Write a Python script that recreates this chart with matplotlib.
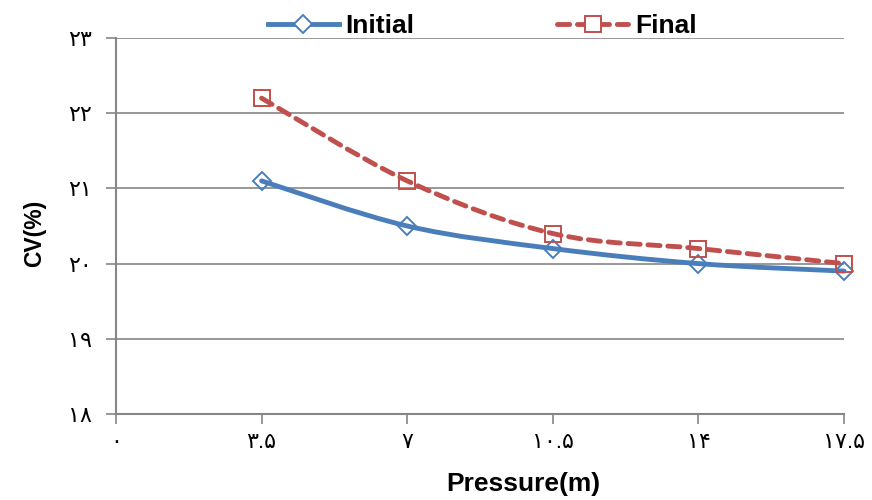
import numpy as np
import matplotlib.pyplot as plt
from matplotlib.path import Path
from matplotlib.patches import PathPatch

plt.rcParams['font.family'] = ['Liberation Sans', 'DejaVu Sans']

pressure = [3.5, 7, 10.5, 14, 17.5]
cv_initial = [21.1, 20.5, 20.2, 20.0, 19.9]
cv_final = [22.2, 21.1, 20.4, 20.2, 20.0]

x_ticks = [0, 3.5, 7, 10.5, 14, 17.5]
x_labels = ['۰', '۳.۵', '۷', '۱۰.۵', '۱۴', '۱۷.۵']
y_ticks = [18, 19, 20, 21, 22, 23]
y_labels = ['۱۸', '۱۹', '۲۰', '۲۱', '۲۲', '۲۳']

blue = '#4a7ebb'
red = '#c0504d'
grey = '#868686'
dash = (0, (2.5, 1.6))


def smooth_path(x, y):
    # Excel-like smoothed line: cubic bezier segments through the points
    x = np.asarray(x, float)
    y = np.asarray(y, float)
    verts = [(x[0], y[0])]
    codes = [Path.MOVETO]
    n = len(x)
    for i in range(n - 1):
        x0, y0 = (x[i - 1], y[i - 1]) if i > 0 else (x[i], y[i])
        x3, y3 = (x[i + 2], y[i + 2]) if i + 2 < n else (x[i + 1], y[i + 1])
        c1 = (x[i] + (x[i + 1] - x0) / 6, y[i] + (y[i + 1] - y0) / 6)
        c2 = (x[i + 1] - (x3 - x[i]) / 6, y[i + 1] - (y3 - y[i]) / 6)
        verts += [c1, c2, (x[i + 1], y[i + 1])]
        codes += [Path.CURVE4] * 3
    return Path(verts, codes)


fig = plt.figure(figsize=(8.72, 5.0), dpi=100)
ax = fig.add_axes([0.133, 0.172, 0.835, 0.752])

ax.add_patch(PathPatch(smooth_path(pressure, cv_initial), fill=False,
                       edgecolor=blue, lw=3.5, capstyle='round', zorder=3,
                       clip_on=False))
ax.add_patch(PathPatch(smooth_path(pressure, cv_final), fill=False,
                       edgecolor=red, lw=3.5, linestyle=dash,
                       capstyle='round', zorder=3, clip_on=False))

ax.plot(pressure, cv_initial, ls='none', marker='D', ms=9, mfc='none',
        mec=blue, mew=1.4, zorder=4, clip_on=False)
ax.plot(pressure, cv_final, ls='none', marker='s', ms=12, mfc='none',
        mec=red, mew=1.4, zorder=4, clip_on=False)

# legend handles
ax.plot([], [], color=blue, lw=3.5, marker='D', ms=9, mfc='white',
        mec=blue, mew=1.4, label='Initial')
ax.plot([], [], color=red, lw=3.5, ls=dash, dash_capstyle='round',
        marker='s', ms=12, mfc='white', mec=red, mew=1.4, label='Final')

ax.set_xlim(0, 17.5)
ax.set_ylim(18, 23)
ax.set_xticks(x_ticks)
ax.set_xticklabels(x_labels)
ax.set_yticks(y_ticks)
ax.set_yticklabels(y_labels)
ax.tick_params(axis='both', colors=grey, labelcolor='black', labelsize=16,
               length=7, width=1.2)
ax.tick_params(axis='x', pad=6)
ax.tick_params(axis='y', pad=10)

for s in ['top', 'right']:
    ax.spines[s].set_visible(False)
for s in ['left', 'bottom']:
    ax.spines[s].set_color(grey)
    ax.spines[s].set_linewidth(1.5)

ax.yaxis.grid(True, color=grey, lw=1.2)
ax.set_axisbelow(True)

ax.set_ylabel('CV(%)', fontsize=16.5, fontweight='bold', labelpad=16)
ax.yaxis.label.set_y(0.48)
ax.set_xlabel('Pressure(m)', fontsize=19, fontweight='bold', labelpad=14)
ax.xaxis.label.set_x(0.559)

fig.legend(loc='upper center', bbox_to_anchor=(0.553, 1.02), ncol=2,
           frameon=False, prop={'weight': 'bold', 'size': 19},
           handlelength=2.7, columnspacing=5.4, handletextpad=0.25)

fig.savefig('out.png', dpi=100)
